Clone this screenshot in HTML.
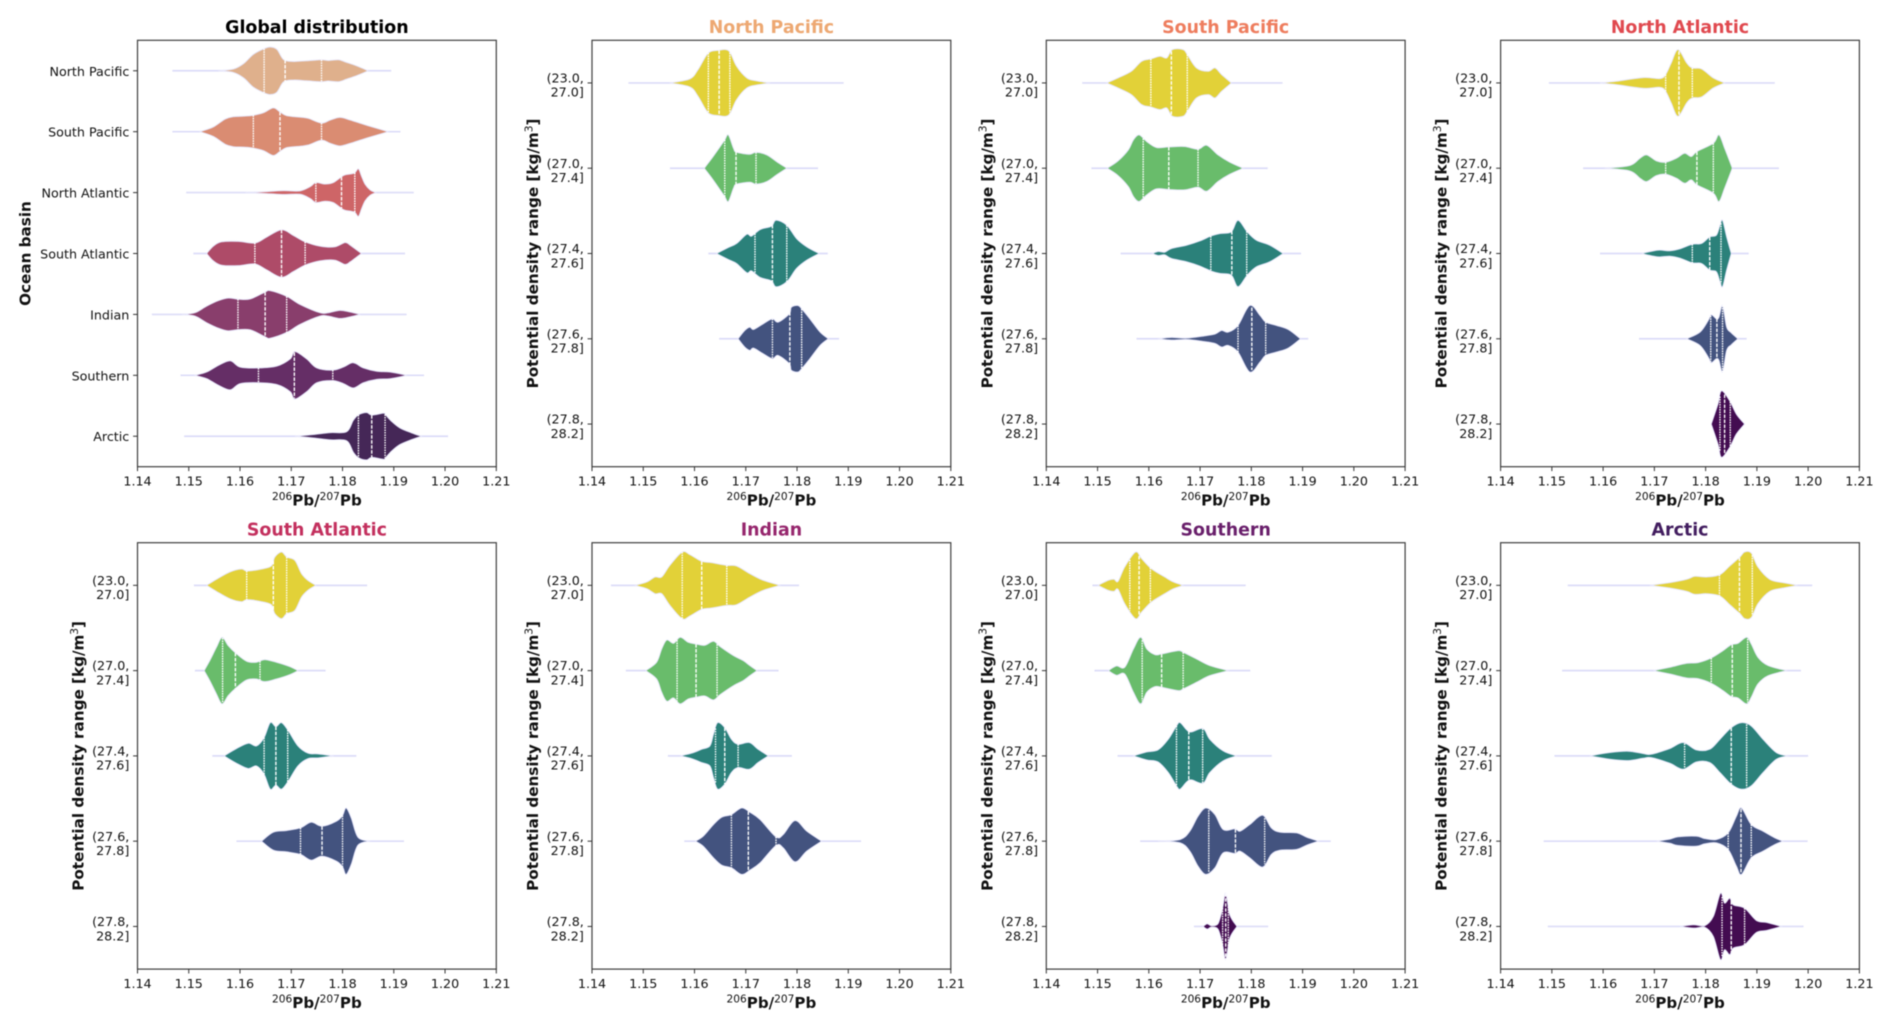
<!DOCTYPE html>
<html lang="en">
<head>
<meta charset="utf-8">
<title>Pb isotope ratio distributions by ocean basin and density range</title>
<style>
html,body{margin:0;padding:0;background:#fff;width:1892px;height:1028px;overflow:hidden}
#figure{display:block;filter:blur(0.45px)}
text{font-family:"DejaVu Sans","Liberation Sans",sans-serif;fill:#111111}
</style>
</head>
<body>
<svg id="figure" xmlns="http://www.w3.org/2000/svg" width="1892" height="1028" viewBox="0 0 1892 1028"></svg>
<script>
// ---------- Axis and label data ----------
const xTicks = [1.14, 1.15, 1.16, 1.17, 1.18, 1.19, 1.20, 1.21];
const xTickLabels = ["1.14", "1.15", "1.16", "1.17", "1.18", "1.19", "1.20", "1.21"];
const basinLabels = ["North Pacific", "South Pacific", "North Atlantic", "South Atlantic", "Indian", "Southern", "Arctic"];
const densityLabels = [["(23.0,", "27.0]"], ["(27.0,", "27.4]"], ["(27.4,", "27.6]"], ["(27.6,", "27.8]"], ["(27.8,", "28.2]"]];

// ---------- Global distribution ----------
const globalX = [
 [1.1558,1.1587,1.1607,1.1626,1.1646,1.1659,1.1672,1.1685,1.1704,1.173,1.1759,1.1772,1.1792,1.1808,1.1828,1.185],
 [1.1522,1.1548,1.1571,1.1587,1.1607,1.1626,1.1646,1.1665,1.1678,1.1691,1.1717,1.1733,1.1759,1.1776,1.1795,1.1815,1.1841,1.1867,1.1889],
 [1.161,1.1652,1.1685,1.1717,1.1737,1.1748,1.1766,1.1782,1.1802,1.1815,1.1824,1.1831,1.1837,1.1844,1.1854,1.1865],
 [1.1535,1.1548,1.1564,1.1597,1.1629,1.1652,1.1681,1.1704,1.1727,1.1756,1.1785,1.1805,1.1815,1.1828,1.1837],
 [1.1486,1.1512,1.1535,1.1558,1.1577,1.1597,1.162,1.1649,1.1659,1.1691,1.1717,1.1756,1.1772,1.1795,1.1815,1.1835],
 [1.1512,1.1535,1.1558,1.1581,1.16,1.1636,1.1672,1.1698,1.1707,1.173,1.175,1.1781,1.1802,1.1821,1.1841,1.1867,1.1893,1.1926],
 [1.1707,1.1743,1.1776,1.1808,1.1821,1.1831,1.1847,1.1857,1.188,1.1884,1.1896,1.1912,1.1935,1.1954]
];
const globalDensity = [
 [0,.07,.3,.69,.92,1,.9,.47,.39,.42,.46,.43,.46,.35,.2,0],
 [0,.2,.53,.63,.65,.69,.8,1,.83,.67,.61,.56,.36,.49,.6,.49,.31,.14,0],
 [0,.04,.08,.07,.25,.42,.36,.42,.72,.78,.83,1,.69,.35,.11,0],
 [0,.31,.49,.51,.44,.69,1,.76,.49,.31,.28,.46,.35,.14,0],
 [0,.07,.35,.58,.69,.64,.65,.94,1,.76,.42,.07,.07,.17,.1,0],
 [0,.14,.42,.61,.35,.31,.39,.69,1,.69,.31,.22,.35,.53,.31,.17,.14,0],
 [0,.07,.15,.19,.67,.9,1,.89,.97,.9,.62,.35,.14,0]
];
const globalQuartiles = [[1.1647,1.1688,1.1759],[1.1626,1.1678,1.1759],[1.1748,1.1798,1.1824],[1.1629,1.1681,1.1727],[1.1596,1.1649,1.1691],[1.1636,1.1706,1.1781],[1.1831,1.1857,1.1883]];
const globalExtent = [[1.1468,1.1895],[1.1468,1.1913],[1.1495,1.1939],[1.1509,1.1922],[1.1428,1.1925],[1.1484,1.1959],[1.1491,1.2006]];

// ---------- North Pacific ----------
const northPacificX = [
 [1.1552,1.1591,1.1607,1.1627,1.1648,1.1661,1.167,1.1682,1.1702,1.1721,1.1747],
 [1.1619,1.1633,1.165,1.1659,1.1666,1.1676,1.1682,1.1708,1.172,1.1741,1.176,1.178],
 [1.1643,1.1666,1.1682,1.1702,1.1711,1.1728,1.175,1.1759,1.178,1.1799,1.1819,1.1843],
 [1.1685,1.1698,1.1708,1.1715,1.1734,1.1752,1.1763,1.1785,1.1789,1.1802,1.1809,1.1825,1.1845,1.1861]
];
const northPacificDensity = [
 [0,.12,.4,.9,.98,1,.9,.5,.15,.06,0],
 [0,.28,.65,.85,1,.6,.48,.42,.48,.4,.2,0],
 [0,.18,.3,.58,.52,.72,.82,1,.85,.45,.2,0],
 [0,.25,.35,.28,.45,.6,.5,.75,.95,1,.9,.6,.2,0]
];
const northPacificQuartiles = [[1.1627,1.1648,1.1669],[1.1659,1.1681,1.172],[1.1718,1.1752,1.178],[1.1752,1.1786,1.1809]];
const northPacificExtent = [[1.1471,1.1891],[1.1552,1.1841],[1.1627,1.186],[1.1648,1.1882]];

// ---------- South Pacific ----------
const southPacificX = [
 [1.1518,1.154,1.1566,1.1586,1.1604,1.1622,1.1635,1.1646,1.1667,1.1675,1.1693,1.1716,1.1729,1.1742,1.1761],
 [1.1519,1.154,1.156,1.157,1.1581,1.1596,1.1615,1.1639,1.167,1.1696,1.1713,1.1735,1.1758,1.1784],
 [1.1607,1.1618,1.1631,1.1644,1.1674,1.17,1.1722,1.1739,1.1761,1.1774,1.1792,1.181,1.1836,1.1862],
 [1.1618,1.1644,1.1674,1.1706,1.1729,1.1742,1.1755,1.1774,1.1797,1.1817,1.1828,1.1849,1.1872,1.1896]
];
const southPacificDensity = [
 [0,.15,.35,.65,.72,.8,.75,1,1,.85,.45,.35,.45,.25,0],
 [0,.22,.55,.85,1,.8,.62,.64,.65,.57,.69,.4,.18,0],
 [0,.06,.04,.15,.25,.38,.53,.6,.65,1,.65,.4,.25,0],
 [0,.04,.02,.08,.14,.25,.2,.4,1,.7,.5,.4,.28,0]
];
const southPacificQuartiles = [[1.1604,1.1644,1.1675],[1.1589,1.1639,1.1696],[1.1721,1.1762,1.1791],[1.1774,1.1801,1.1828]];
const southPacificExtent = [[1.147,1.1861],[1.1488,1.1832],[1.1545,1.1897],[1.1576,1.1911]];

// ---------- North Atlantic ----------
const northAtlanticX = [
 [1.1594,1.1626,1.1678,1.1711,1.1722,1.1733,1.1746,1.1763,1.1774,1.1792,1.1815,1.1837],
 [1.1603,1.1652,1.1672,1.1685,1.1704,1.1722,1.1743,1.1759,1.1772,1.1783,1.1815,1.1826,1.1837,1.1852],
 [1.1675,1.1707,1.173,1.175,1.1774,1.1792,1.1808,1.1821,1.1828,1.1833,1.1841,1.185],
 [1.1763,1.1789,1.1805,1.1811,1.1821,1.1826,1.1833,1.1841,1.185,1.1863],
 [1.1811,1.1824,1.1831,1.1847,1.186,1.1876]
];
const northAtlanticDensity = [
 [0,.05,.16,.13,.25,.6,1,.6,.45,.42,.15,0],
 [0,.08,.3,.4,.22,.18,.3,.45,.35,.5,.75,1,.6,0],
 [0,.1,.08,.14,.28,.3,.5,.55,.85,1,.5,0],
 [0,.2,.55,.72,.6,.65,1,.35,.18,0],
 [0,.6,1,.7,.3,0]
];
const northAtlanticQuartiles = [[1.1722,1.1748,1.1774],[1.1722,1.1783,1.1815],[1.1774,1.1808,1.183],[1.181,1.1822,1.1833],[1.1828,1.1837,1.1848]];
const northAtlanticExtent = [[1.1494,1.1935],[1.1561,1.1943],[1.1594,1.1884],[1.167,1.188],[1.1811,1.1876]];

// ---------- South Atlantic ----------
const southAtlanticX = [
 [1.1535,1.1554,1.158,1.1603,1.1613,1.1639,1.1661,1.1668,1.1681,1.1691,1.1707,1.172,1.1733,1.1748],
 [1.153,1.1541,1.1554,1.1565,1.1577,1.1592,1.1613,1.1632,1.1648,1.1671,1.1697,1.1713],
 [1.1569,1.1593,1.1616,1.1632,1.1647,1.1659,1.167,1.1681,1.1694,1.1713,1.1733,1.1752,1.1783],
 [1.1642,1.1665,1.1691,1.1718,1.1739,1.176,1.1788,1.18,1.1807,1.1817,1.183,1.1853]
];
const southAtlanticDensity = [
 [0,.18,.4,.49,.43,.48,.58,.85,1,.85,.75,.35,.14,0],
 [0,.3,.7,1,.75,.52,.28,.25,.33,.25,.12,0],
 [0,.22,.38,.3,.55,1,.88,1,.76,.3,.08,.06,0],
 [0,.27,.32,.4,.57,.45,.6,.77,1,.7,.12,0]
];
const southAtlanticQuartiles = [[1.1613,1.1665,1.1691],[1.1566,1.1591,1.1639],[1.1647,1.167,1.1693],[1.1718,1.176,1.18]];
const southAtlanticExtent = [[1.151,1.1848],[1.1512,1.1767],[1.1546,1.1827],[1.1593,1.192]];

// ---------- Indian ----------
const indianX = [
 [1.1484,1.1507,1.1523,1.1536,1.1552,1.1576,1.1591,1.1614,1.1633,1.1663,1.1682,1.1708,1.1734,1.1767],
 [1.1505,1.1526,1.1536,1.1546,1.1559,1.1572,1.1588,1.1603,1.162,1.1637,1.165,1.1676,1.1695,1.1708,1.1722],
 [1.1572,1.1594,1.1614,1.163,1.1637,1.1645,1.1659,1.1672,1.1685,1.1707,1.1724,1.1744],
 [1.1602,1.1617,1.1637,1.1653,1.1672,1.1692,1.1708,1.1728,1.1759,1.1773,1.1796,1.1819,1.1848]
];
const indianDensity = [
 [0,.1,.25,.25,.6,1,.92,.72,.68,.6,.58,.35,.15,0],
 [0,.25,.65,.92,.82,1,.85,.8,.76,.88,.72,.45,.3,.15,0],
 [0,.08,.2,.3,.65,1,.85,.5,.35,.4,.2,0],
 [0,.15,.5,.72,.8,1,.87,.65,.13,.2,.62,.3,0]
];
const indianQuartiles = [[1.1576,1.1614,1.1663],[1.1566,1.1603,1.1644],[1.1641,1.1659,1.1685],[1.1672,1.1705,1.1759]];
const indianExtent = [[1.1437,1.1804],[1.1466,1.1764],[1.1548,1.179],[1.158,1.1925]];

// ---------- Southern ----------
const southernX = [
 [1.1501,1.1521,1.1532,1.154,1.1553,1.1574,1.1586,1.1605,1.1631,1.1648,1.1667],
 [1.1521,1.1537,1.1553,1.157,1.1584,1.1596,1.1612,1.1625,1.1657,1.1667,1.1693,1.1719,1.1755],
 [1.157,1.1596,1.1618,1.1638,1.1654,1.1661,1.1674,1.1683,1.1706,1.1719,1.1745,1.1771],
 [1.1618,1.1661,1.168,1.1696,1.1711,1.1729,1.1745,1.1768,1.1778,1.1797,1.1822,1.1839,1.1856,1.1888,1.1908,1.1931],
 [1.1706,1.1714,1.1722,1.1735,1.1744,1.175,1.1758,1.1772]
];
const southernDensity = [
 [0,.15,.18,.12,.55,1,.8,.5,.25,.1,0],
 [0,.14,.1,.65,1,.65,.48,.5,.6,.55,.35,.15,0],
 [0,.12,.18,.5,.9,1,.78,.72,.82,.5,.15,0],
 [0,.05,.3,.75,1,.8,.35,.37,.3,.5,.78,.4,.27,.25,.12,0],
 [0,.08,.02,.08,.55,1,.35,0]
];
const southernQuartiles = [[1.1563,1.1581,1.1603],[1.1587,1.1625,1.1667],[1.1654,1.1678,1.1705],[1.1717,1.1769,1.1826],[1.1744,1.175,1.1755]];
const southernExtent = [[1.149,1.1789],[1.1494,1.1798],[1.1539,1.184],[1.1583,1.1955],[1.1688,1.1833]];

// ---------- Arctic ----------
const arcticX = [
 [1.1691,1.173,1.1763,1.1779,1.1802,1.1828,1.1847,1.1867,1.1876,1.1889,1.1902,1.1925,1.1951,1.198],
 [1.1698,1.173,1.1763,1.1785,1.1811,1.1834,1.185,1.1863,1.188,1.1889,1.1902,1.1922,1.1958],
 [1.1574,1.1613,1.1649,1.1678,1.1694,1.173,1.1756,1.1782,1.1808,1.1828,1.185,1.187,1.1889,1.1912,1.1938,1.1961],
 [1.1704,1.173,1.1746,1.1782,1.1798,1.1821,1.1844,1.186,1.187,1.1889,1.1912,1.1935,1.1951],
 [1.175,1.1776,1.1798,1.1815,1.1829,1.1837,1.1847,1.1854,1.1876,1.1899,1.1919,1.1948]
];
const arcticDensity = [
 [0,.08,.18,.27,.25,.32,.58,.85,1,.97,.55,.18,.08,0],
 [0,.1,.22,.24,.38,.6,.78,.82,1,.8,.4,.15,0],
 [0,.1,.14,.07,.05,.22,.4,.18,.2,.5,.85,1,.9,.5,.1,0],
 [0,.06,.13,.15,.08,.05,.25,.75,1,.5,.3,.1,0],
 [0,.05,.02,.3,1,.7,.85,.65,.55,.18,.12,0]
];
const arcticQuartiles = [[1.1827,1.1866,1.1891],[1.1811,1.1852,1.1882],[1.1759,1.185,1.188],[1.1844,1.1869,1.1889],[1.1832,1.185,1.1876]];
const arcticExtent = [[1.1531,1.2008],[1.152,1.1986],[1.1505,1.2],[1.1484,1.1999],[1.1492,1.1991]];

// ---------- Styles ----------
const basinColors = ["#DFB08C", "#DA8C72", "#CE6567", "#AE4B68", "#893E6C", "#652E66", "#452757"];
const densityColors = ["#E2D138", "#69BC6B", "#2B817A", "#43537F", "#430C51"];
const panelTitleColors = ["#000000", "#EDA872", "#EE7D5E", "#E0494F", "#C3305E", "#96266D", "#691F6B", "#421D5F"];

const NS = "http://www.w3.org/2000/svg";
const figure = document.getElementById("figure");
const X_MIN = 1.14, X_MAX = 1.21;
const PANEL_W = 358.8, PANEL_H = 426.4;
const COLUMN_LEFT = [137.5, 592, 1046.3, 1500.6];
const ROW_TOP = [40.3, 542.7];

const panels = [
 {title: "Global distribution", slug: "global", x: globalX, d: globalDensity, q: globalQuartiles, e: globalExtent, labels: basinLabels, colors: basinColors, yTitle: "Ocean basin"},
 {title: "North Pacific", slug: "north-pacific", x: northPacificX, d: northPacificDensity, q: northPacificQuartiles, e: northPacificExtent, labels: densityLabels, colors: densityColors},
 {title: "South Pacific", slug: "south-pacific", x: southPacificX, d: southPacificDensity, q: southPacificQuartiles, e: southPacificExtent, labels: densityLabels, colors: densityColors},
 {title: "North Atlantic", slug: "north-atlantic", x: northAtlanticX, d: northAtlanticDensity, q: northAtlanticQuartiles, e: northAtlanticExtent, labels: densityLabels, colors: densityColors},
 {title: "South Atlantic", slug: "south-atlantic", x: southAtlanticX, d: southAtlanticDensity, q: southAtlanticQuartiles, e: southAtlanticExtent, labels: densityLabels, colors: densityColors},
 {title: "Indian", slug: "indian", x: indianX, d: indianDensity, q: indianQuartiles, e: indianExtent, labels: densityLabels, colors: densityColors},
 {title: "Southern", slug: "southern", x: southernX, d: southernDensity, q: southernQuartiles, e: southernExtent, labels: densityLabels, colors: densityColors},
 {title: "Arctic", slug: "arctic", x: arcticX, d: arcticDensity, q: arcticQuartiles, e: arcticExtent, labels: densityLabels, colors: densityColors}
];

function make(tag, parent, attrs) {
  const el = document.createElementNS(NS, tag);
  for (const k in attrs) el.setAttribute(k, attrs[k]);
  parent.appendChild(el);
  return el;
}
function densityAt(xs, ds, v) {
  if (v <= xs[0]) return ds[0];
  for (let i = 1; i < xs.length; i++) {
    if (v <= xs[i]) {
      const t = (v - xs[i - 1]) / (xs[i] - xs[i - 1]);
      return ds[i - 1] + t * (ds[i] - ds[i - 1]);
    }
  }
  return ds[ds.length - 1];
}
function smoothSegments(pts, cy, sign) {
  let s = "";
  const clampY = function (y) { return sign < 0 ? Math.min(y, cy) : Math.max(y, cy); };
  for (let i = 0; i < pts.length - 1; i++) {
    const p0 = pts[Math.max(i - 1, 0)], p1 = pts[i], p2 = pts[i + 1], p3 = pts[Math.min(i + 2, pts.length - 1)];
    const c1x = p1[0] + (p2[0] - p0[0]) / 6, c1y = clampY(p1[1] + (p2[1] - p0[1]) / 6);
    const c2x = p2[0] - (p3[0] - p1[0]) / 6, c2y = clampY(p2[1] - (p3[1] - p1[1]) / 6);
    s += "C" + c1x.toFixed(2) + " " + c1y.toFixed(2) + " " + c2x.toFixed(2) + " " + c2y.toFixed(2) + " " + p2[0].toFixed(2) + " " + p2[1].toFixed(2);
  }
  return s;
}

panels.forEach(function (panel, index) {
  const left = COLUMN_LEFT[index % 4];
  const top = ROW_TOP[index < 4 ? 0 : 1];
  const n = panel.labels.length;
  const step = PANEL_H / n;
  const xScale = function (v) { return left + (v - X_MIN) / (X_MAX - X_MIN) * PANEL_W; };
  const yScale = function (i) { return top + (i + 0.5) * step; };
  const halfWidth = function (d) { return d * 0.39 * step; };

  const g = make("g", figure, {});
  
  

  // violins
  panel.x.forEach(function (xs, i) {
    const ds = panel.d[i];
    const cy = yScale(i);
    const vg = make("g", g, {});
    
    

    const tail = make("line", vg, {x1: xScale(panel.e[i][0]), x2: xScale(panel.e[i][1]), y1: cy, y2: cy, stroke: "#dcdcf8", "stroke-width": 1.7});
    
    

    const upper = xs.map(function (v, k) { return [xScale(v), cy - halfWidth(ds[k])]; });
    const lower = xs.map(function (v, k) { return [xScale(v), cy + halfWidth(ds[k])]; }).reverse();
    const pathD = "M" + upper[0][0].toFixed(2) + " " + upper[0][1].toFixed(2) + smoothSegments(upper, cy, -1) + smoothSegments(lower, cy, 1) + "Z";
    const body = make("path", vg, {d: pathD, fill: panel.colors[i], stroke: "#e6e6fa", "stroke-width": 0.9});
    
    

    panel.q[i].forEach(function (qv, k) {
      const hw = halfWidth(densityAt(xs, ds, qv));
      const qLine = make("line", vg, {
        x1: xScale(qv), x2: xScale(qv), y1: cy - hw, y2: cy + hw,
        stroke: "#ffffff", "stroke-width": 1.35,
        "stroke-dasharray": k === 1 ? "3.6 1.4" : "1.6 0.9"
      });
      
      
    });
  });

  // axes frame
  const frame = make("rect", g, {x: left, y: top, width: PANEL_W, height: PANEL_H, fill: "none", stroke: "#3f3f3f", "stroke-width": 1.2});
  
  

  // x axis
  xTicks.forEach(function (t, i) {
    const px = xScale(t);
    const tick = make("line", g, {x1: px, x2: px, y1: top + PANEL_H, y2: top + PANEL_H + 4.4, stroke: "#333", "stroke-width": 1});
    
    
    const label = make("text", g, {x: px, y: top + PANEL_H + 18.8, "text-anchor": "middle", "font-size": 12.7});
    label.textContent = xTickLabels[i];
    
    
  });

  const xTitle = make("text", g, {x: left + PANEL_W / 2, y: top + PANEL_H + 38.8, "text-anchor": "middle", "font-size": 15.1, "font-weight": "bold"});
  
  
  const s1 = make("tspan", xTitle, {"font-size": 10.6, "font-weight": "normal", dy: -5.6});
  s1.textContent = "206";
  const b1 = make("tspan", xTitle, {dy: 5.6});
  b1.textContent = "Pb/";
  const s2 = make("tspan", xTitle, {"font-size": 10.6, "font-weight": "normal", dy: -5.6});
  s2.textContent = "207";
  const b2 = make("tspan", xTitle, {dy: 5.6});
  b2.textContent = "Pb";

  // y axis
  panel.labels.forEach(function (lab, i) {
    const py = yScale(i);
    const tick = make("line", g, {x1: left - 4.4, x2: left, y1: py, y2: py, stroke: "#333", "stroke-width": 1});
    
    
    if (Array.isArray(lab)) {
      const l1 = make("text", g, {x: left - 8.2, y: py - 0.4, "text-anchor": "end", "font-size": 12.7});
      l1.textContent = lab[0];
      
      
      const l2 = make("text", g, {x: left - 8.2, y: py + 13.8, "text-anchor": "end", "font-size": 12.7});
      l2.textContent = lab[1];
      
      
    } else {
      const l = make("text", g, {x: left - 8.2, y: py + 5, "text-anchor": "end", "font-size": 12.7});
      l.textContent = lab;
      
      
    }
  });

  const yCenter = top + PANEL_H / 2;
  const yX = panel.yTitle ? left - 107 : left - 54;
  const yTitle = make("text", g, {x: yX, y: yCenter, "text-anchor": "middle", "font-size": 15.2, "font-weight": "bold", transform: "rotate(-90 " + yX + " " + yCenter + ")"});
  
  
  if (panel.yTitle) {
    yTitle.textContent = panel.yTitle;
  } else {
    const y1 = make("tspan", yTitle, {});
    y1.textContent = "Potential density range [kg/m";
    const y2 = make("tspan", yTitle, {"font-size": 10.6, "font-weight": "normal", dy: -5.6});
    y2.textContent = "3";
    const y3 = make("tspan", yTitle, {dy: 5.6});
    y3.textContent = "]";
  }

  const title = make("text", g, {x: left + PANEL_W / 2, y: top - 7.4, "text-anchor": "middle", "font-size": 17.4, "font-weight": "bold"});
  title.style.fill = panelTitleColors[index];
  title.textContent = panel.title;
  
  
});
</script>
</body>
</html>
